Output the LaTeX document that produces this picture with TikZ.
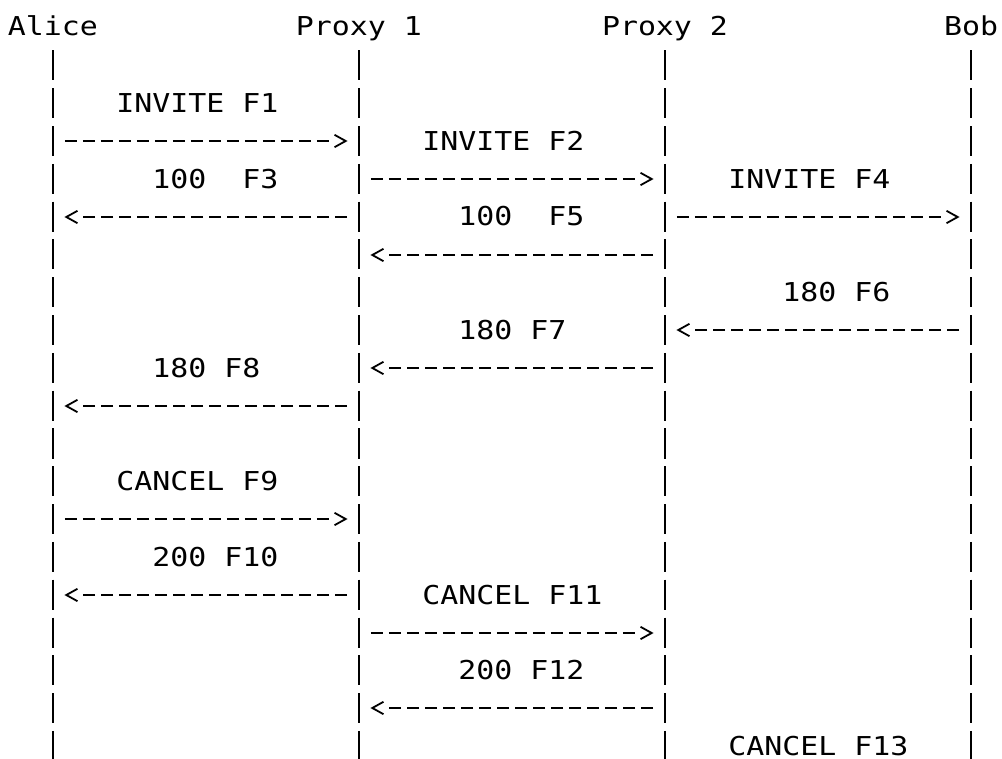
\documentclass[tikz,border=0pt]{standalone}
\usepackage{fontspec}
\newfontfamily\seqmono[FakeStretch=1.15]{DejaVu Sans Mono}
\usetikzlibrary{decorations.markings}
\begin{document}
\begin{tikzpicture}[x=0.5pt,y=-0.5pt,
  txt/.style={inner sep=0pt, font=\seqmono\fontsize{13pt}{15pt}\selectfont, text=black},
  hdr/.style={txt, anchor=base},
  lbl/.style={txt, anchor=base west},
  life/.style={draw=black, line width=1pt, dash pattern=on 15pt off 3.9pt},
  msg/.style={draw=black, line width=1pt, dash pattern=on 6.2pt off 2.8pt,
    postaction={decorate},
    decoration={markings, mark=at position 1 with {
      \draw[solid, black, line width=0.9pt, line join=miter]
        (0pt,3.1pt) -- (5.6pt,0pt) -- (0pt,-3.1pt);}}}
]
\path[fill=white] (0,0) rectangle (1002,759);
\useasboundingbox (0,0) rectangle (1002,759);

% participants
\node[hdr] (alice) at (53,35.8) {Alice};
\node[hdr] (pone)  at (359,35.8) {Proxy 1};
\node[hdr] (ptwo)  at (665,35.8) {Proxy 2};
\node[hdr] (bob)   at (971,35.8) {Bob};

% rows and lifeline points
\foreach \k in {1,...,19} {
  \coordinate (r-\k) at (0,{round(27.7+37.8*\k)});
  \foreach \n in {alice,pone,ptwo,bob} {
    \coordinate (\n-\k) at (\n |- r-\k);
  }
}
\coordinate (top) at (0,50.5);
\coordinate (bottom) at (0,759);
\foreach \n in {alice,pone,ptwo,bob} {
  \draw[life] (\n |- top) -- (\n |- bottom);
}

% labels
\newcommand\seqlbl[4]{\node[lbl] (#1) at ({8+18*#2},{37+37.8*#3}) {#4};}
\seqlbl{f1}{6}{2}{INVITE F1}
\seqlbl{f2}{23}{3}{INVITE F2}
\seqlbl{f3}{8}{4}{100\ \ F3}
\seqlbl{f4}{40}{4}{INVITE F4}
\seqlbl{f5}{25}{5}{100\ \ F5}
\seqlbl{f6}{43}{7}{180 F6}
\seqlbl{f7}{25}{8}{180 F7}
\seqlbl{f8}{8}{9}{180 F8}
\seqlbl{f9}{6}{12}{CANCEL F9}
\seqlbl{f10}{8}{14}{200 F10}
\seqlbl{f11}{23}{15}{CANCEL F11}
\seqlbl{f12}{25}{17}{200 F12}
\seqlbl{f13}{40}{19}{CANCEL F13}

% messages
\draw[msg] ([xshift=5.9pt]alice-3) -- ([xshift=-12.25pt]pone-3);
\draw[msg] ([xshift=5.9pt]pone-4) -- ([xshift=-12.25pt]ptwo-4);
\draw[msg] ([xshift=-5.9pt]pone-5) -- ([xshift=12.25pt]alice-5);
\draw[msg] ([xshift=5.9pt]ptwo-5) -- ([xshift=-12.25pt]bob-5);
\draw[msg] ([xshift=-5.9pt]ptwo-6) -- ([xshift=12.25pt]pone-6);
\draw[msg] ([xshift=-5.9pt]bob-8) -- ([xshift=12.25pt]ptwo-8);
\draw[msg] ([xshift=-5.9pt]ptwo-9) -- ([xshift=12.25pt]pone-9);
\draw[msg] ([xshift=-5.9pt]pone-10) -- ([xshift=12.25pt]alice-10);
\draw[msg] ([xshift=5.9pt]alice-13) -- ([xshift=-12.25pt]pone-13);
\draw[msg] ([xshift=-5.9pt]pone-15) -- ([xshift=12.25pt]alice-15);
\draw[msg] ([xshift=5.9pt]pone-16) -- ([xshift=-12.25pt]ptwo-16);
\draw[msg] ([xshift=-5.9pt]ptwo-18) -- ([xshift=12.25pt]pone-18);
\end{tikzpicture}
\end{document}
